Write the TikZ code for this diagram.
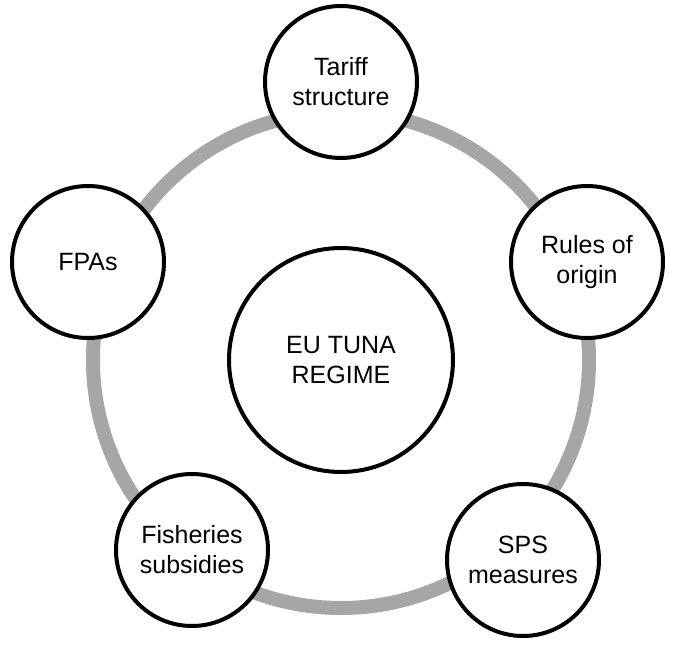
\documentclass[tikz,border=0pt]{standalone}
\usepackage{fontspec}
\setmainfont{Liberation Sans}
\definecolor{ringgrey}{HTML}{A6A6A6}
\tikzset{
  ring/.style={draw=ringgrey,line width=14pt},
  hub/.style={circle,draw,line width=4pt,fill=white,minimum size=224pt,align=center,font=\fontsize{25}{30}\selectfont},
  spoke/.style={circle,draw,line width=4pt,fill=white,minimum size=152pt,align=center,font=\fontsize{25}{30}\selectfont},
}
\begin{document}
\begin{tikzpicture}[x=1pt,y=-1pt]
        \useasboundingbox (0,0) rectangle (681,650);
        \coordinate (mid) at (341,360);
        \draw[ring] (mid) circle (248pt);
        \node[hub] (EU) at (mid) {EU TUNA\\REGIME};
        \node[spoke] (Tariff) at (341,82) {Tariff\\structure};
        \node[spoke] (Rules) at (587,262) {Rules of\\origin};
        \node[spoke] (SPS) at (523,560) {SPS\\measures};
        \node[spoke] (Fish) at (192,550) {Fisheries\\subsidies};
        \node[spoke] (FPA) at (88,262) {FPAs};
      \end{tikzpicture}
\end{document}
